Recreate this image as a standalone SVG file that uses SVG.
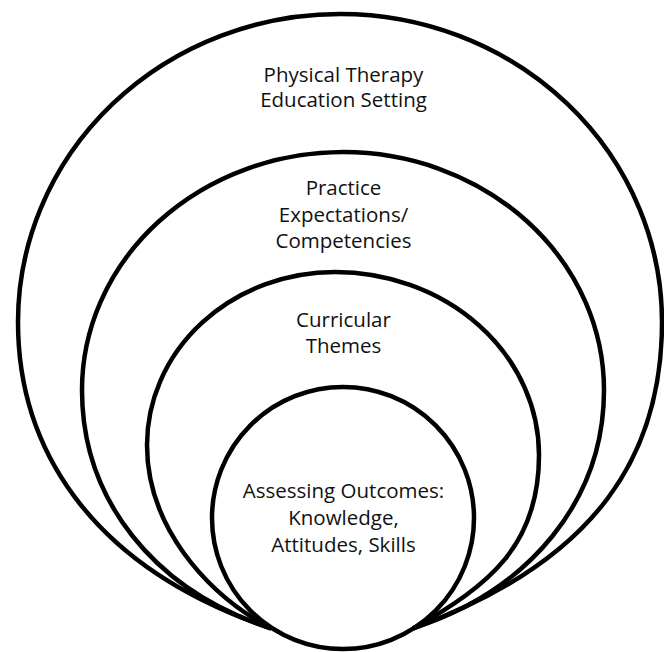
<svg xmlns="http://www.w3.org/2000/svg" width="664" height="652" viewBox="0 0 664 652">
<style>
.ring{fill:none;stroke:#000;stroke-width:4.5;stroke-linecap:round;stroke-linejoin:round}
.lbl{font-family:"Open Sans","Noto Sans","Liberation Sans",sans-serif;font-size:20.5px;fill:#111;text-anchor:middle}
</style>
<rect x="0" y="0" width="664" height="652" fill="#fff"/>
<g id="connectors"></g>
<g id="node-education-setting">
<path class="ring" d="M 270 628 C 84 565 18 442 18 322 A 322 308 0 0 1 662 322 C 662 452 600 560 414 628"/>
<text class="lbl" x="343.5" y="82">Physical Therapy</text>
<text class="lbl" x="343.5" y="107">Education Setting</text>
</g>
<g id="node-practice">
<path class="ring" d="M 270 628 C 154 590 82 500 82 390 A 261 238 0 0 1 604 390 C 604 500 530 590 414 628"/>
<text class="lbl" x="343.5" y="195">Practice</text>
<text class="lbl" x="343.5" y="221.5">Expectations/</text>
<text class="lbl" x="343.5" y="248">Competencies</text>
</g>
<g id="node-curricular">
<path class="ring" d="M 270 628 C 204 592 147 525 147 445 A 188 173 0 0 1 335 272 A 204 183 0 0 1 539 455 C 539 545 490 585 414 628"/>
<text class="lbl" x="343.5" y="326.5">Curricular</text>
<text class="lbl" x="343.5" y="353">Themes</text>
</g>
<g id="node-outcomes">
<circle class="ring" cx="343" cy="518" r="131"/>
<text class="lbl" x="343.5" y="498">Assessing Outcomes:</text>
<text class="lbl" x="343.5" y="525">Knowledge,</text>
<text class="lbl" x="343.5" y="551.5">Attitudes, Skills</text>
</g>
</svg>
